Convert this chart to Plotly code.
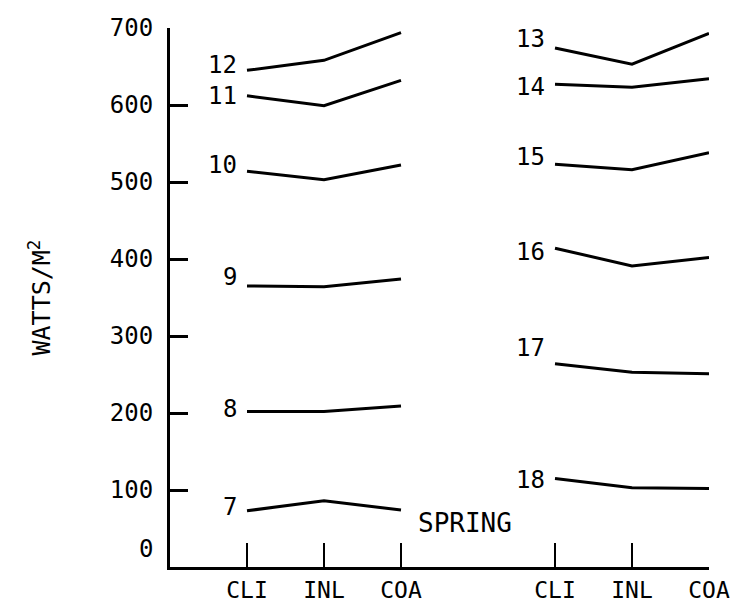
import plotly.graph_objects as go

# Hour of day for each curve, and irradiance (W/m^2) at the three sites
hours = [7, 8, 9, 10, 11, 12, 13, 14, 15, 16, 17, 18]
sites = ["CLI", "INL", "COA"]
cli = [73, 202, 365, 514, 612, 645, 674, 627, 523, 414, 264, 115]
inl = [86, 202, 364, 503, 599, 658, 653, 623, 516, 391, 253, 103]
coa = [74, 209, 374, 522, 632, 694, 693, 634, 538, 402, 251, 102]
y_ticks = [100, 200, 300, 400, 500, 600, 700]
season = "SPRING"

FONT = "DejaVu Sans Mono, Liberation Mono, monospace"
INK = "black"

# morning hours on the left group, afternoon hours on the right group
def group_x(hour):
    base = 0 if hour <= 12 else 4
    return [base + i for i in range(len(sites))]

# small vertical nudges for the hour labels (px)
label_shift = {7: 4, 8: 2, 9: 9, 10: 6, 11: 0, 12: 5,
               13: 9, 14: -3, 15: 7, 16: -4, 17: 16, 18: -2}

fig = go.Figure()
annotations = []
for h, a, b, c in zip(hours, cli, inl, coa):
    xs = group_x(h)
    fig.add_trace(go.Scatter(x=xs, y=[a, b, c], mode="lines",
                             line=dict(color=INK, width=3),
                             showlegend=False, hoverinfo="skip"))
    annotations.append(dict(x=xs[0], y=a, xref="x", yref="y", text=str(h),
                            showarrow=False, xanchor="right", yanchor="middle",
                            xshift=-8, yshift=label_shift[h],
                            font=dict(family=FONT, size=24, color=INK)))

# the zero label sits just above the x axis
annotations.append(dict(x=0, y=0, xref="paper", yref="y", text="0",
                        showarrow=False, xanchor="right", yanchor="middle",
                        xshift=-15, yshift=18,
                        font=dict(family=FONT, size=24, color=INK)))

annotations.append(dict(x=2.83, y=57, xref="x", yref="y", text=season,
                        showarrow=False, xanchor="center", yanchor="middle",
                        font=dict(family=FONT, size=26, color=INK)))

annotations.append(dict(x=-130 / 539, y=0.5, xref="paper", yref="paper",
                        text="WATTS/M<sup>2</sup>", textangle=-90,
                        showarrow=False, xanchor="center", yanchor="middle",
                        font=dict(family=FONT, size=25, color=INK)))

fig.update_layout(
    width=733, height=606,
    margin=dict(l=170, r=24, t=28, b=39, autoexpand=False),
    paper_bgcolor="white", plot_bgcolor="white",
    annotations=annotations,
    xaxis=dict(range=[-1, 6], tickmode="array",
               tickvals=[0, 1, 2, 4, 5, 6], ticktext=sites + sites,
               ticks="inside", ticklen=24, tickwidth=2, tickcolor=INK,
               ticklabeloverflow="allow", ticklabelstandoff=0,
               automargin=False,
               showline=True, linecolor=INK, linewidth=3,
               showgrid=False, zeroline=False,
               tickfont=dict(family=FONT, size=23, color=INK)),
    yaxis=dict(range=[0, 700], tickmode="array", tickvals=y_ticks,
               ticks="inside", ticklen=18, tickwidth=3, tickcolor=INK,
               ticklabelstandoff=9, automargin=False,
               showline=True, linecolor=INK, linewidth=3,
               showgrid=False, zeroline=False,
               tickfont=dict(family=FONT, size=24, color=INK)),
)

fig.write_html("out.html")
